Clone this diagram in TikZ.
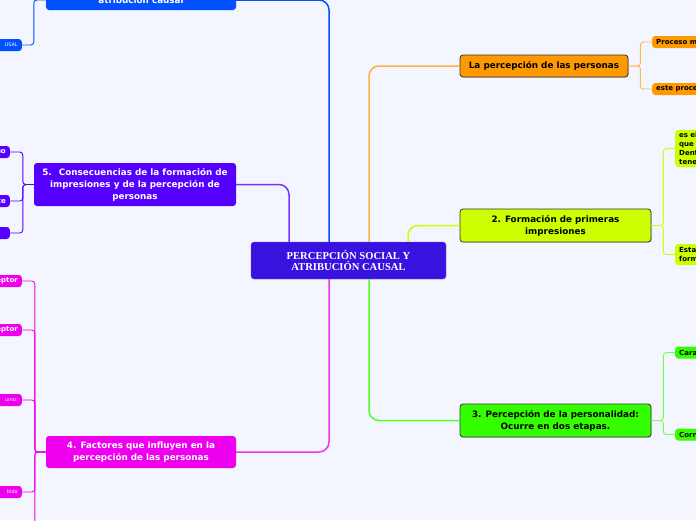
\documentclass[tikz,border=0pt]{standalone}
\usepackage{fontspec}
\setmainfont{DejaVu Sans}
\newfontfamily\rootfont{Liberation Serif}
\usetikzlibrary{positioning,shadows}
\definecolor{canvas}{RGB}{243,246,254}
\definecolor{core}{RGB}{58,18,224}
\definecolor{brblue}{RGB}{0,80,255}
\definecolor{brpurple}{RGB}{85,0,255}
\definecolor{brmagenta}{RGB}{238,0,238}
\definecolor{brorange}{RGB}{255,153,0}
\definecolor{brlime}{RGB}{204,255,0}
\definecolor{brgreen}{RGB}{51,255,0}
\definecolor{rim}{RGB}{51,51,51}
\tikzset{
  root/.style={fill=core, draw=core!70!white, rounded corners=3pt, align=center,
    text=white, font=\rootfont\bfseries\fontsize{10.6}{11.5}\selectfont,
    minimum width=195pt, minimum height=37pt, inner sep=2pt},
  lbox/.style={fill=#1, rounded corners=3pt, align=center, text=white,
    font=\bfseries\fontsize{8.8}{12}\selectfont, inner sep=2pt},
  rbox/.style={fill=#1, draw=rim, line width=0.8pt, rounded corners=3pt, align=center,
    text=black, font=\bfseries\fontsize{8.8}{12}\selectfont, inner sep=2pt,
    drop shadow={shadow xshift=0.8pt, shadow yshift=-0.8pt, opacity=0.3}},
  lleaf/.style={fill=#1, rounded corners=3pt, text=white, anchor=east, align=right,
    text width=40pt, font=\bfseries\fontsize{7}{9}\selectfont, inner sep=2pt,
    inner xsep=4pt, minimum height=12pt},
  rleaf/.style={fill=#1, rounded corners=3pt, text=black, anchor=west, align=left,
    text width=60pt, font=\bfseries\fontsize{7}{9}\selectfont, inner sep=2pt,
    inner xsep=4pt, minimum height=12pt},
  tiny/.style={font=\fontsize{5}{6}\selectfont},
  trunk/.style={line width=1.5pt, draw=#1, rounded corners=10pt},
  twig/.style={line width=0.9pt, draw=#1, rounded corners=3pt},
}
\begin{document}
\begin{tikzpicture}[x=1pt, y=-1pt]
  \useasboundingbox (0,0) rectangle (696,520);
  \clip (0,0) rectangle (696,520);
  \fill[canvas] (0,0) rectangle (696,520);
  % centre
  \node[root] (root) at (348.5,260.5) {PERCEPCIÓN SOCIAL Y\\ATRIBUCIÓN CAUSAL};
  % left branches
  \node[lbox=brblue, minimum width=190pt, minimum height=20pt] (n6) at (141,0) {atribución causal};
  \node[lbox=brpurple, minimum width=202pt, minimum height=43pt] (n5) at (135,184.5)
       {5.~ Consecuencias de la formación de\\impresiones y de la percepción de\\personas};
  \node[lbox=brmagenta, minimum width=190pt, minimum height=32pt] (n4) at (141,452)
       {4. Factores que influyen en la\\percepción de las personas};
  % right branches
  \node[rbox=brorange, minimum width=168pt, minimum height=22pt] (n1) at (544,66)
       {La percepción de las personas};
  \node[rbox=brlime, minimum width=191pt, minimum height=33pt] (n2) at (555.5,225.5)
       {2. Formación de primeras\\impresiones};
  \node[rbox=brgreen, minimum width=191pt, minimum height=33pt] (n3) at (555.5,420.5)
       {3. Percepción de la personalidad:\\Ocurre en dos etapas.};
  % leaves
  \node[lleaf=brblue, tiny] (b1) at (22,45) {USAL};
  \node[lleaf=brpurple] (p1) at (10,152) {uo};
  \node[lleaf=brpurple] (p2) at (10,201) {te};
  \node[lleaf=brpurple] (p3) at (10,233) {};
  \node[lleaf=brmagenta] (m1) at (22,281) {eptor};
  \node[lleaf=brmagenta] (m2) at (22,330) {eptor};
  \node[lleaf=brmagenta, tiny] (m3) at (22,400) {umo:};
  \node[lleaf=brmagenta, tiny] (m4) at (22,492) {bida};
  \coordinate (m5) at (22,545);
  \node[rleaf=brorange] (o1) at (652,42) {Proceso m};
  \node[rleaf=brorange] (o2) at (652,89) {este proce};
  \node[rleaf=brlime, minimum height=37pt] (l1) at (675,148.5) {es el\\que\\Dent\\tene};
  \node[rleaf=brlime, minimum height=21pt] (l2) at (675,254.5) {Esta\\form};
  \node[rleaf=brgreen] (g1) at (675,352.5) {Cara};
  \node[rleaf=brgreen] (g2) at (675,434.5) {Corr};
  % trunks
  \draw[trunk=brblue] ([xshift=-19.5pt]root.north) |- (n6.east);
  \draw[trunk=brpurple!80] ([xshift=-59.5pt]root.north) |- (n5.east);
  \draw[trunk=brmagenta!80] ([xshift=-19.5pt]root.south) |- (n4.east);
  \draw[trunk=brorange!75] ([xshift=20.5pt]root.north) |- (n1.west);
  \draw[trunk=brlime] ([xshift=59.5pt]root.north) |- (n2.west);
  \draw[trunk=brgreen!85] ([xshift=20.5pt]root.south) |- (n3.west);
  % twigs
  \draw[twig=brblue] (n6.west) -- ++(-12,0) |- (b1.east);
  \foreach \c in {p1,p2,p3} \draw[twig=brpurple] (n5.west) -- ++(-11,0) |- (\c.east);
  \foreach \c in {m1,m2,m3,m4} \draw[twig=brmagenta] (n4.west) -- ++(-11,0) |- (\c.east);
  \draw[twig=brmagenta] (n4.west) -- ++(-11,0) |- (m5);
  \foreach \c in {o1,o2} \draw[twig=brorange!70] (n1.east) -- ++(12,0) |- (\c.west);
  \foreach \c in {l1,l2} \draw[twig=brlime] (n2.east) -- ++(12,0) |- (\c.west);
  \foreach \c in {g1,g2} \draw[twig=brgreen!70] (n3.east) -- ++(12,0) |- (\c.west);
\end{tikzpicture}
\end{document}
